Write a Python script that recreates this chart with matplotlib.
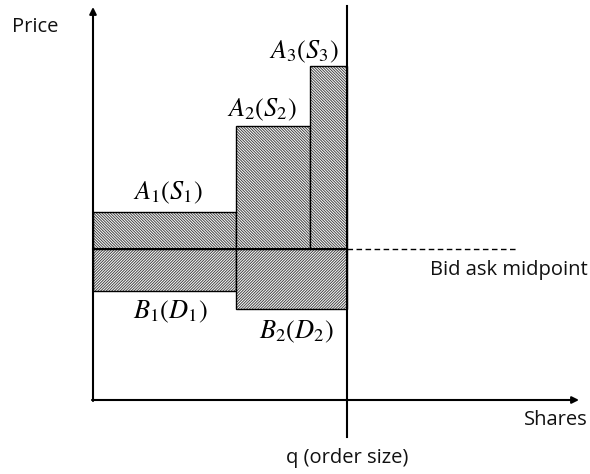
import matplotlib.pyplot as plt
from matplotlib.patches import Rectangle

plt.rcParams['mathtext.fontset'] = 'stix'
plt.rcParams['hatch.linewidth'] = 0.7

# ask side: price levels and sizes (shares)
ask_price = [18.8, 27.4, 33.4]
ask_size = [14.3, 7.4, 3.7]
ask_labels = [r'$A_1(S_1)$', r'$A_2(S_2)$', r'$A_3(S_3)$']

# bid side
bid_price = [10.9, 9.1]
bid_size = [14.3, 11.1]
bid_labels = [r'$B_1(D_1)$', r'$B_2(D_2)$']

midpoint = 15.1
q = sum(ask_size)

fig = plt.figure(figsize=(5.9, 4.74), dpi=100)
ax = fig.add_axes([0, 0, 1, 1])
ax.set_xlim(-9.3, 49.7)
ax.set_ylim(-7.4, 40.0)
ax.axis('off')

txt = dict(family='Open Sans', fontsize=14.5, color='#111111')
hatch_a = '\\' * 12
hatch_b = '/' * 12


def block(x, y, w, h, hatch):
    ax.add_patch(Rectangle((x, y), w, h, facecolor='white', edgecolor='#444444',
                           lw=0, hatch=hatch))
    ax.add_patch(Rectangle((x, y), w, h, fill=False, edgecolor='black', lw=1.0))


# ask blocks
ask_off = [(0.35, 1.9), (-1.1, 1.6), (-2.5, 1.4)]
x0 = 0
for p, s, lab, o in zip(ask_price, ask_size, ask_labels, ask_off):
    block(x0, midpoint, s, p - midpoint, hatch_a)
    ax.text(x0 + s / 2 + o[0], p + o[1], lab, fontsize=19,
            ha='center', va='center')
    x0 += s

# bid blocks
bid_off = [(0.55, -2.1), (0.45, -2.3)]
x0 = 0
for p, s, lab, o in zip(bid_price, bid_size, bid_labels, bid_off):
    block(x0, p, s, midpoint - p, hatch_b)
    ax.text(x0 + s / 2 + o[0], p + o[1], lab, fontsize=19,
            ha='center', va='center')
    x0 += s

# midpoint line
ax.plot([0, q], [midpoint, midpoint], color='black', lw=1.5)
ax.plot([q, 42.5], [midpoint, midpoint], color='black', lw=1.0, ls=(0, (4, 2.5)))
ax.text(49.5, 13.0, 'Bid ask midpoint', ha='right', va='center', **txt)

# axes with arrows
ax.annotate('', xy=(0, 39.3), xytext=(0, -0.1),
            arrowprops=dict(arrowstyle='-|>', lw=1.5, color='black',
                            mutation_scale=10, shrinkA=0, shrinkB=0))
ax.annotate('', xy=(48.6, 0), xytext=(-0.1, 0),
            arrowprops=dict(arrowstyle='-|>', lw=1.5, color='black',
                            mutation_scale=10, shrinkA=0, shrinkB=0))
ax.plot([q, q], [39.4, -3.7], color='black', lw=1.5)

ax.text(-8.1, 37.3, 'Price', ha='left', va='center', **txt)
ax.text(49.5, -2.0, 'Shares', ha='right', va='center', **txt)
ax.text(q, -5.8, 'q (order size)', ha='center', va='center', **txt)

fig.savefig('out.png', dpi=100)
